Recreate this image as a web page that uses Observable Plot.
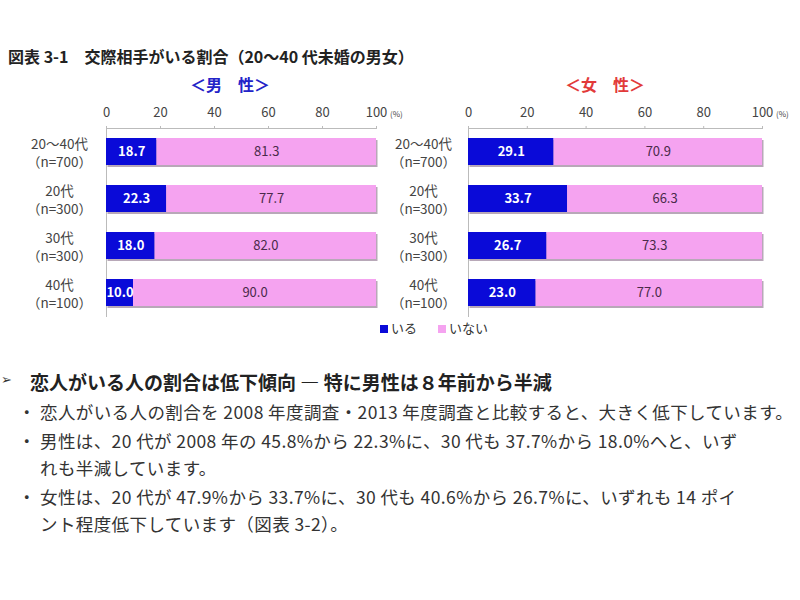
<!DOCTYPE html>
<html><head><meta charset="utf-8">
<script src="https://cdn.jsdelivr.net/npm/d3@7"></script>
<script src="https://cdn.jsdelivr.net/npm/@observablehq/plot@0.6"></script>
<style>
body{margin:0;background:#fff;font-family:"Noto Sans CJK JP","Noto Sans",sans-serif;}
#wrap{position:relative;width:800px;height:600px;overflow:hidden;background:#fff;}
.abs{position:absolute;white-space:nowrap;}
.title{left:8px;top:44px;font-size:16px;color:#222;font-weight:600;}
.head{font-size:16px;font-weight:bold;top:72px;}
.pct{font-size:8px;color:#444;top:108px;}
.leg{top:318px;font-size:13px;color:#333;}
.sq{display:inline-block;width:8px;height:8px;margin-right:3px;vertical-align:0px;}
.body{font-size:17.5px;letter-spacing:0.4px;color:#333;}
.h2{font-size:19px;font-weight:bold;color:#222;}
</style></head>
<body><div id="wrap">
<div class="abs title">図表 3-1　交際相手がいる割合（20～40 代未婚の男女）</div>
<div class="abs head" style="left:190px;color:#2323c8">＜男　性＞</div>
<div class="abs head" style="left:565px;color:#e23a3a">＜女　性＞</div>
<div id="male" class="abs" style="left:0;top:95px"></div>
<div id="female" class="abs" style="left:380px;top:95px"></div>
<div class="abs pct" style="left:390px">(%)</div>
<div class="abs pct" style="left:776px">(%)</div>
<div class="abs leg" style="left:380px"><span class="sq" style="background:#0a0ad8"></span>いる</div>
<div class="abs leg" style="left:438px"><span class="sq" style="background:#f5a3f0"></span>いない</div>
<div class="abs" style="left:1px;top:372px;font-size:13px;color:#333;font-family:'DejaVu Sans'">➢</div>
<div class="abs h2" style="left:30px;top:368px">恋人がいる人の割合は低下傾向 ― 特に男性は８年前から半減</div>
<div class="abs body" style="left:18px;top:399px">・</div>
<div class="abs body" style="left:40px;top:399px">恋人がいる人の割合を 2008 年度調査・2013 年度調査と比較すると、大きく低下しています。</div>
<div class="abs body" style="left:18px;top:428px">・</div>
<div class="abs body" style="left:40px;top:428px">男性は、20 代が 2008 年の 45.8%から 22.3%に、30 代も 37.7%から 18.0%へと、いず</div>
<div class="abs body" style="left:40px;top:455px">れも半減しています。</div>
<div class="abs body" style="left:18px;top:484px">・</div>
<div class="abs body" style="left:40px;top:484px">女性は、20 代が 47.9%から 33.7%に、30 代も 40.6%から 26.7%に、いずれも 14 ポイ</div>
<div class="abs body" style="left:40px;top:511px">ント程度低下しています（図表 3-2）。</div>
</div>
<script>
const ageGroups = ["20～40代", "20代", "30代", "40代"];
const sampleSizes = ["（n=700）", "（n=300）", "（n=300）", "（n=100）"];
const statuses = ["いる", "いない"];
const maleIru = [18.7, 22.3, 18.0, 10.0];
const maleInai = [81.3, 77.7, 82.0, 90.0];
const femaleIru = [29.1, 33.7, 26.7, 23.0];
const femaleInai = [70.9, 66.3, 73.3, 77.0];
const xTicks = [0, 20, 40, 60, 80, 100];

function rowsOf(iru, inai) {
  const rows = [];
  ageGroups.forEach((g, i) => {
    rows.push({group: g, status: statuses[0], value: iru[i]});
    rows.push({group: g, status: statuses[1], value: inai[i]});
  });
  return rows;
}

function chart(iru, inai, marginLeft, marginRight, labelDx) {
  const rows = rowsOf(iru, inai);
  return Plot.plot({
    width: 400, height: 230,
    marginTop: 33, marginBottom: 9, marginLeft, marginRight,
    style: {fontFamily: "'Noto Sans CJK JP', sans-serif", background: "transparent"},
    x: {domain: [0, 100], axis: null, label: null},
    y: {domain: ageGroups, paddingInner: 0.42, paddingOuter: 0.21, axis: null, label: null},
    color: {domain: statuses, range: ["#0a0ad8", "#f5a3f0"]},
    marks: [
      Plot.frame({anchor: "top", stroke: "#bbb"}),
      Plot.frame({anchor: "left", stroke: "#bbb"}),
      Plot.axisX({anchor: "top", ticks: xTicks, tickSize: 3, tickPadding: 9, fontSize: 13, color: "#444", stroke: "#bbb", label: null}),
      Plot.barX(ageGroups, {x1: 0, x2: 100, y: d => d, fill: "#b8a8b8", dx: 1.5, dy: 2}),
      Plot.barX(rows, Plot.stackX({x: "value", y: "group", fill: "status"})),
      Plot.text(rows, Plot.stackX({x: "value", y: "group",
        text: d => d.status === statuses[0] ? d.value.toFixed(1) : "",
        fill: "white", fontWeight: "bold", fontSize: 13})),
      Plot.text(rows, Plot.stackX({x: "value", y: "group",
        text: d => d.status === statuses[1] ? d.value.toFixed(1) : "",
        fill: "#4a2a4a", fontSize: 13})),
      Plot.text(ageGroups, {y: d => d, frameAnchor: "left", dx: labelDx, textAnchor: "middle",
        text: (d, i) => d + "\n" + sampleSizes[i], fontSize: 13.5, lineHeight: 1.35, fill: "#444"})
    ]
  });
}

document.getElementById("male").appendChild(chart(maleIru, maleInai, 106, 24, -47));
document.getElementById("female").appendChild(chart(femaleIru, femaleInai, 88, 18, -45));
</script>
</body></html>
